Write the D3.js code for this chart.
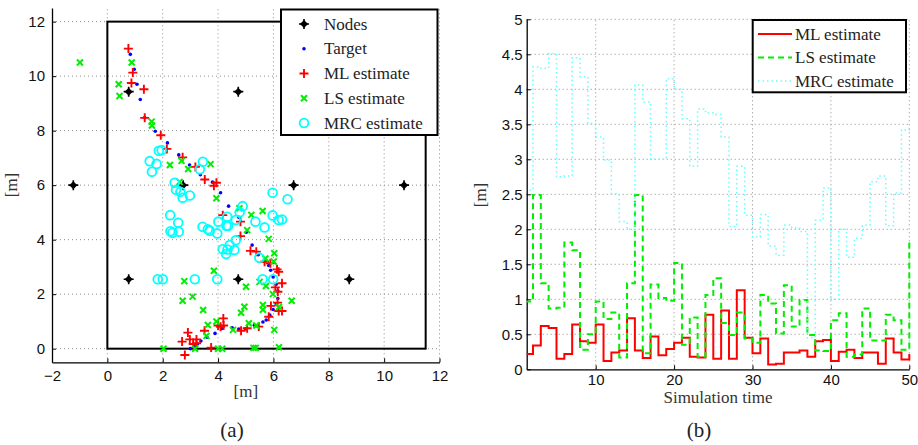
<!DOCTYPE html>
<html><head><meta charset="utf-8">
<script src="https://cdn.jsdelivr.net/npm/d3@7"></script>
<style>body{margin:0;background:#fff}svg{display:block}</style>
</head><body>
<svg id="c" width="918" height="445"></svg>
<script>
// ---------- Data: panel (a) ----------
const nodesX = [-1.23, 0.77, 2.74, 4.73, 6.73, 10.72, 0.77, 4.73, 8.74];
const nodesY = [6.0, 9.43, 6.0, 9.43, 6.0, 6.0, 2.55, 2.55, 2.55];
const targetX = [0.83,0.97,1.07,1.19,1.35,1.73,2.17,2.58,2.97,3.36,3.80,4.09,4.38,4.75,5.02,5.23,5.45,5.66,5.83,5.90,5.99,6.10,6.16,6.16,6.10,5.99,5.87,5.74,5.62,5.31,4.99,4.75,4.51,4.14,3.89,3.60,3.38,3.26,3.15,3.00];
const targetY = [10.80,10.25,9.70,9.14,8.48,7.98,7.55,7.11,6.74,6.38,6.11,5.72,5.23,4.82,4.27,3.80,3.45,3.22,3.05,2.88,2.63,2.36,2.12,1.84,1.64,1.44,1.23,1.05,0.98,0.86,0.73,0.72,0.77,0.74,0.56,0.42,0.28,0.17,0.07,0.00];
const mlX = [0.76,0.92,0.87,1.32,1.35,1.93,2.15,2.72,3.18,3.52,3.85,3.94,4.17,4.81,4.81,5.17,5.38,5.68,5.89,6.13,6.19,6.31,6.07,6.16,6.15,5.91,6.19,6.31,5.83,5.47,5.05,4.83,4.19,4.09,4.00,4.20,3.51,2.91,2.98,2.70,3.10,3.22,3.22,3.75,2.80];
const mlY = [11.01,10.13,9.75,9.52,8.47,7.83,7.33,7.02,6.67,6.21,5.98,6.09,4.90,4.66,4.13,3.59,3.56,3.19,3.13,2.91,2.82,2.40,2.25,2.09,1.69,1.57,1.38,1.38,1.17,0.81,0.75,0.66,1.11,0.80,0.85,0.85,0.66,0.59,0.34,0.26,0.17,0.34,0.20,0.04,-0.23];
const lsX = [-0.99,0.88,0.41,0.44,1.60,1.61,2.26,2.68,2.92,3.73,2.61,3.94,4.77,5.20,5.61,5.05,5.83,6.03,5.71,6.01,3.85,2.78,5.01,5.50,5.73,5.98,2.72,3.08,3.46,4.83,4.95,5.62,5.62,6.66,6.20,3.63,3.94,4.54,5.11,5.38,3.58,6.03,2.03,3.17,4.00,4.15,5.28,5.36,6.20];
const lsY = [10.50,10.50,9.70,9.27,8.33,8.19,6.74,6.89,6.59,6.77,6.12,5.52,5.15,4.91,5.05,4.35,4.03,3.50,3.31,3.20,2.86,2.48,2.27,2.45,2.30,2.00,1.76,1.91,1.42,1.32,1.54,1.60,1.43,1.76,1.53,0.87,1.00,0.69,0.93,0.85,0.47,0.69,0.00,0.00,0.00,0.00,0.03,0.03,0.05];
const mrcX = [1.53,1.78,1.61,1.86,1.96,3.34,3.45,2.43,2.48,2.64,2.72,2.98,5.97,6.51,4.89,4.78,4.64,4.01,4.33,4.30,4.36,3.97,3.44,3.63,3.70,5.35,5.68,5.97,6.19,6.31,2.27,2.56,2.28,2.35,2.58,4.17,4.29,4.34,4.42,4.59,4.64,5.49,1.82,2.00,3.16,3.97,5.61,5.99];
const mrcY = [6.88,6.78,6.49,7.26,7.28,6.58,6.86,6.09,5.83,5.76,5.54,5.62,5.72,5.48,5.23,5.01,4.72,4.66,4.84,4.51,4.50,4.23,4.47,4.38,4.33,4.66,4.45,4.89,4.72,4.74,4.90,4.62,4.31,4.25,4.29,3.65,3.47,3.64,3.80,3.62,3.98,3.34,2.55,2.55,2.55,2.55,2.55,2.55];
const xTicksA = [-2,0,2,4,6,8,10,12];
const yTicksA = [0,2,4,6,8,10,12];
const legendA = ["Nodes","Target","ML estimate","LS estimate","MRC estimate"];

// ---------- Data: panel (b) ----------
const simTime = d3.range(1, 51);
const errML = [0.22,0.34,0.62,0.59,0.15,0.22,0.64,0.40,0.38,0.64,0.12,0.24,0.27,0.73,0.27,0.16,0.47,0.20,0.29,0.38,0.45,0.18,0.17,0.78,0.15,0.84,0.15,1.13,0.45,0.23,0.44,0.07,0.08,0.24,0.24,0.27,0.18,0.40,0.42,0.12,0.25,0.28,0.16,0.24,0.24,0.08,0.44,0.24,0.14,0.22];
const errLS = [0.97,2.49,1.23,0.87,0.88,1.81,1.70,0.28,0.50,0.97,0.72,0.81,0.17,1.23,2.49,0.23,1.21,1.02,0.98,1.52,0.35,0.74,0.18,1.06,1.30,0.66,0.49,0.81,0.44,0.38,1.06,0.94,0.51,1.20,0.61,0.99,0.49,0.27,0.26,0.70,0.80,0.18,0.21,0.87,0.41,0.41,0.78,0.70,0.28,1.83];
const errMRC = [2.56,4.32,4.30,4.51,2.75,2.76,4.45,4.18,3.51,3.32,2.99,2.51,2.11,2.00,4.06,3.82,3.00,3.00,4.15,4.00,3.58,2.90,3.72,3.66,3.64,3.32,2.04,2.90,2.20,1.89,2.21,1.76,1.63,2.06,2.02,1.97,0.45,2.13,2.59,1.00,2.00,1.60,1.87,2.06,2.68,2.76,2.05,2.52,3.42,3.45];
const xTicksB = [10,20,30,40,50];
const yTicksB = [0,0.5,1,1.5,2,2.5,3,3.5,4,4.5,5];
const legendB = ["ML estimate","LS estimate","MRC estimate"];

// ---------- Drawing ----------
const svg = d3.select("#c");
const SERIF = "'Liberation Serif','DejaVu Serif',serif";
const SANS = "'Liberation Sans',Arial,sans-serif";
const GRID = "#8c8c8c";

function styleAxis(g){
  g.select(".domain").attr("stroke","#000").attr("stroke-width",1.3);
  g.selectAll(".tick line").attr("stroke","#000");
  g.selectAll(".tick text").attr("font-family",SANS).attr("font-size",15).attr("fill","#111");
}

// ---- Panel (a)
const xA = d3.scaleLinear().domain([-2,12]).range([52,439.5]);
const yA = d3.scaleLinear().domain([-0.5,12.5]).range([362.3,8]);
const gA = svg.append("g");
gA.append("g").selectAll("line").data(xTicksA.filter(d=>d>-2)).join("line")
  .attr("x1",d=>xA(d)).attr("x2",d=>xA(d)).attr("y1",yA(-0.5)).attr("y2",yA(12.5))
  .attr("stroke",GRID).attr("stroke-dasharray","1,3");
gA.append("g").selectAll("line").data(yTicksA).join("line")
  .attr("x1",xA(-2)).attr("x2",xA(12)).attr("y1",d=>yA(d)).attr("y2",d=>yA(d))
  .attr("stroke",GRID).attr("stroke-dasharray","1,3");
gA.append("g").attr("transform",`translate(0,${yA(-0.5)})`)
  .call(d3.axisBottom(xA).tickValues(xTicksA).tickSizeInner(-4).tickSizeOuter(0).tickPadding(8))
  .call(styleAxis);
gA.append("g").attr("transform",`translate(${xA(-2)},0)`)
  .call(d3.axisLeft(yA).tickValues(yTicksA).tickSizeInner(-4).tickSizeOuter(0).tickPadding(7))
  .call(styleAxis);
// boundary rectangle
gA.append("rect").attr("x",xA(0)).attr("y",yA(12)).attr("width",xA(11.5)-xA(0)).attr("height",yA(0)-yA(12))
  .attr("fill","none").attr("stroke","#000").attr("stroke-width",2);

const nodePath = "M0,-4L4,0L0,4L-4,0Z";
function drawNode(sel){ sel.append("path").attr("d",nodePath).attr("fill","#000");
  sel.append("path").attr("d","M-5,0H5M0,-5V5").attr("stroke","#000").attr("stroke-width",1.6);}
function drawPlus(sel){ sel.append("path").attr("d","M-4.5,0H4.5M0,-4.5V4.5").attr("stroke","#ff0000").attr("stroke-width",1.9);}
function drawX(sel){ sel.append("path").attr("d","M-3,-3L3,3M-3,3L3,-3").attr("stroke","#00ee00").attr("stroke-width",2);}
function drawO(sel){ sel.append("circle").attr("r",4.4).attr("fill","none").attr("stroke","#00ffff").attr("stroke-width",1.8);}
function drawDot(sel){ sel.append("circle").attr("r",1.8).attr("fill","#0000ff");}

function scatter(xs,ys,fn){
  const g = gA.append("g");
  xs.forEach((x,i)=>{ const s=g.append("g").attr("transform",`translate(${xA(x)},${yA(ys[i])})`); fn(s); });
}
scatter(nodesX,nodesY,drawNode);
scatter(targetX,targetY,drawDot);
scatter(mlX,mlY,drawPlus);
scatter(lsX,lsY,drawX);
scatter(mrcX,mrcY,drawO);

// legend (a)
const lgA = gA.append("g");
lgA.append("rect").attr("x",281).attr("y",9.5).attr("width",156.5).attr("height",125.5)
  .attr("fill","#fff").attr("stroke","#000").attr("stroke-width",2);
const fnsA=[drawNode,drawDot,drawPlus,drawX,drawO];
legendA.forEach((t,i)=>{
  const y = 24 + i*24.75;
  const s = lgA.append("g").attr("transform",`translate(304,${y})`); fnsA[i](s);
  lgA.append("text").attr("x",324).attr("y",y+5.5).text(t)
    .attr("font-family",SERIF).attr("font-size",17).attr("fill","#222");
});
gA.append("text").attr("transform",`translate(17,185) rotate(-90)`).attr("text-anchor","middle")
  .attr("font-family",SERIF).attr("font-size",17).attr("fill","#333").text("[m]");
gA.append("text").attr("x",245.8).attr("y",397).attr("text-anchor","middle")
  .attr("font-family",SERIF).attr("font-size",17).attr("fill","#333").text("[m]");
gA.append("text").attr("x",232).attr("y",437).attr("text-anchor","middle")
  .attr("font-family",SERIF).attr("font-size",21).attr("fill","#222").text("(a)");

// ---- Panel (b)
const xB = d3.scaleLinear().domain([1.2,50]).range([526.7,909.3]);
const yB = d3.scaleLinear().domain([0,5]).range([369.3,19.3]);
const gB = svg.append("g");
svg.append("defs").append("clipPath").attr("id","clipB").append("rect")
  .attr("x",xB(1.2)).attr("y",yB(5)-2).attr("width",xB(50)-xB(1.2)+2).attr("height",yB(0)-yB(5)+2);
gB.append("g").selectAll("line").data(xTicksB).join("line")
  .attr("x1",d=>xB(d)).attr("x2",d=>xB(d)).attr("y1",yB(0)).attr("y2",yB(5))
  .attr("stroke",GRID).attr("stroke-dasharray","1,3");
gB.append("g").selectAll("line").data(yTicksB.filter(d=>d>0)).join("line")
  .attr("x1",xB(1.2)).attr("x2",xB(50)).attr("y1",d=>yB(d)).attr("y2",d=>yB(d))
  .attr("stroke",GRID).attr("stroke-dasharray","1,3");
gB.append("g").attr("transform",`translate(0,${yB(0)})`)
  .call(d3.axisBottom(xB).tickValues(xTicksB).tickSizeInner(-4).tickSizeOuter(0).tickPadding(5))
  .call(styleAxis);
gB.append("g").attr("transform",`translate(${xB(1.2)},0)`)
  .call(d3.axisLeft(yB).tickValues(yTicksB).tickFormat(d3.format("")).tickSizeInner(-4).tickSizeOuter(0).tickPadding(4))
  .call(styleAxis);

const stepLine = d3.line().x((d,i)=>xB(simTime[i])).y(d=>yB(d)).curve(d3.curveStepAfter);
const lines = gB.append("g").attr("clip-path","url(#clipB)");
lines.append("path").attr("d",stepLine(errML)).attr("fill","none").attr("stroke","#ff0000").attr("stroke-width",2);
lines.append("path").attr("d",stepLine(errLS)).attr("fill","none").attr("stroke","#00ee00").attr("stroke-width",2).attr("stroke-dasharray","6,4");
lines.append("path").attr("d",stepLine(errMRC)).attr("fill","none").attr("stroke","#66ffff").attr("stroke-width",1.5).attr("stroke-dasharray","1.5,3");

// legend (b)
const lgB = gB.append("g");
lgB.append("rect").attr("x",752.7).attr("y",20).attr("width",153.3).attr("height",72.3)
  .attr("fill","#fff").attr("stroke","#000").attr("stroke-width",2);
const stylesB = [["#ff0000",2,null],["#00ee00",2,"6,4"],["#66ffff",1.5,"1.5,3"]];
legendB.forEach((t,i)=>{
  const y = 34 + i*23.5;
  lgB.append("line").attr("x1",758).attr("x2",792).attr("y1",y).attr("y2",y)
    .attr("stroke",stylesB[i][0]).attr("stroke-width",stylesB[i][1]).attr("stroke-dasharray",stylesB[i][2]);
  lgB.append("text").attr("x",795).attr("y",y+5.5).text(t)
    .attr("font-family",SERIF).attr("font-size",17).attr("fill","#222");
});
gB.append("text").attr("transform",`translate(486,195) rotate(-90)`).attr("text-anchor","middle")
  .attr("font-family",SERIF).attr("font-size",17).attr("fill","#333").text("[m]");
gB.append("text").attr("x",718).attr("y",403).attr("text-anchor","middle")
  .attr("font-family",SERIF).attr("font-size",17).attr("fill","#333").text("Simulation time");
gB.append("text").attr("x",699).attr("y",437).attr("text-anchor","middle")
  .attr("font-family",SERIF).attr("font-size",21).attr("fill","#222").text("(b)");
</script>
</body></html>
